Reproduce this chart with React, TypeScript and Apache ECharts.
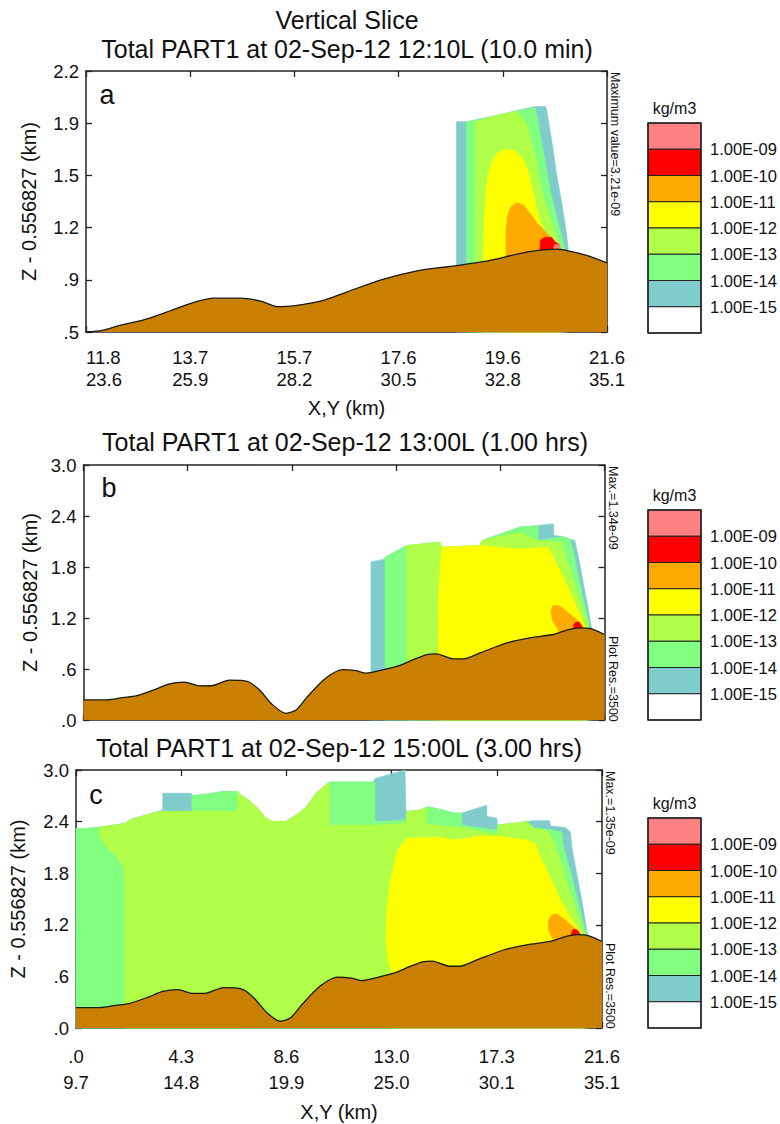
import React, { useEffect, useRef } from 'react';
import * as echarts from 'echarts';

const FONT = '"Liberation Sans", Arial, Helvetica, sans-serif';
const TEXT = '#111111';
const AXIS = '#222222';

// ---------- legend classes (top -> bottom) ----------
const legendColors = ['#FF8080', '#FF0000', '#FFAA00', '#FFFF00', '#B0FF48', '#80FF80', '#80CCCC', '#FFFFFF'];
const legendLabels = ['1.00E-09', '1.00E-10', '1.00E-11', '1.00E-12', '1.00E-13', '1.00E-14', '1.00E-15'];
const legendUnit = 'kg/m3';

const C_PINK = legendColors[0];
const C_RED = legendColors[1];
const C_ORANGE = legendColors[2];
const C_YELLOW = legendColors[3];
const C_YGREEN = legendColors[4];
const C_GREEN = legendColors[5];
const C_TEAL = legendColors[6];
const C_TERRAIN = '#C98000';

// ---------- texts ----------
const mainTitle = 'Vertical Slice';
const titleA = 'Total PART1 at 02-Sep-12 12:10L (10.0 min)';
const titleB = 'Total PART1 at 02-Sep-12 13:00L (1.00 hrs)';
const titleC = 'Total PART1 at 02-Sep-12 15:00L (3.00 hrs)';
const noteA = 'Maximum value=3.21e-09';
const noteB = 'Max.=1.34e-09';
const noteC = 'Max.=1.35e-09';
const resNote = 'Plot Res.=3500';
const yName = 'Z - 0.556827 (km)';
const xName = 'X,Y (km)';

// ---------- tick labels ----------
const xTicksA_X = ['11.8', '13.7', '15.7', '17.6', '19.6', '21.6'];
const xTicksA_Y = ['23.6', '25.9', '28.2', '30.5', '32.8', '35.1'];
const yTicksA = ['.5', '.9', '1.2', '1.5', '1.9', '2.2'];
const xTicksC_X = ['.0', '4.3', '8.6', '13.0', '17.3', '21.6'];
const xTicksC_Y = ['9.7', '14.8', '19.9', '25.0', '30.1', '35.1'];
const yTicksBC = ['.0', '.6', '1.2', '1.8', '2.4', '3.0'];

// ---------- terrain profiles [x km, z km] ----------
const terrainA: number[][] = [
  [11.8, 0.5], [12.1, 0.51], [12.4, 0.54], [12.9, 0.58], [13.4, 0.64], [13.8, 0.69], [14.2, 0.72],
  [14.7, 0.72], [15.1, 0.7], [15.4, 0.665], [15.7, 0.67], [16.3, 0.71], [16.7, 0.76], [17.35, 0.84],
  [18.05, 0.9], [18.6, 0.925], [19.3, 0.96], [19.95, 1.01], [20.27, 1.03], [20.65, 1.04], [20.85, 1.03],
  [21.2, 1.0], [21.6, 0.95],
];
const terrainBC: number[][] = [
  [0, 0.237], [1.0, 0.237], [1.62, 0.264], [2.18, 0.284], [3.0, 0.363], [3.56, 0.426], [4.18, 0.446],
  [4.8, 0.402], [5.36, 0.406], [6.05, 0.47], [6.81, 0.453], [7.29, 0.355], [7.84, 0.178], [8.4, 0.079],
  [8.81, 0.118], [9.29, 0.276], [10.05, 0.493], [10.75, 0.592], [11.3, 0.58], [11.71, 0.552],
  [12.31, 0.584], [13.12, 0.643], [13.67, 0.71], [14.23, 0.769], [14.64, 0.777], [15.33, 0.718],
  [15.75, 0.718], [16.44, 0.789], [17.55, 0.907], [18.51, 0.967], [19.48, 1.006], [20.03, 1.057],
  [20.58, 1.085], [21.0, 1.077], [21.6, 1.006],
];

// ---------- concentration regions, panel a ----------
const plumeA_teal = [[18.77, 0.5], [18.77, 1.87], [18.96, 1.87], [19.56, 1.914], [19.9, 1.942], [20.25, 1.968], [20.45, 1.968], [20.47, 1.935], [20.56, 1.75], [20.65, 1.53], [20.75, 1.338], [20.83, 1.164], [20.87, 1.045], [20.87, 0.5]];
const plumeA_green = [[18.96, 0.5], [18.96, 1.868], [19.56, 1.912], [19.9, 1.94], [20.25, 1.963], [20.31, 1.86], [20.42, 1.64], [20.53, 1.425], [20.65, 1.25], [20.75, 1.12], [20.81, 1.045], [20.81, 0.5]];
const plumeA_ygreen = [[19.12, 0.5], [19.12, 1.87], [19.56, 1.912], [19.9, 1.938], [20.09, 1.859], [20.25, 1.642], [20.37, 1.425], [20.53, 1.251], [20.65, 1.121], [20.72, 1.056], [20.72, 0.5]];
const plumeA_yellow = [[19.27, 0.5], [19.27, 0.947], [19.29, 1.208], [19.32, 1.425], [19.4, 1.577], [19.53, 1.664], [19.68, 1.692], [19.84, 1.681], [19.99, 1.642], [20.12, 1.544], [20.23, 1.381], [20.33, 1.23], [20.47, 1.121], [20.65, 1.06], [20.75, 1.034], [20.75, 0.5]];
const plumeA_orange = [[19.7, 0.5], [19.7, 1.164], [19.73, 1.262], [19.79, 1.316], [19.9, 1.342], [20.03, 1.327], [20.15, 1.273], [20.29, 1.208], [20.47, 1.143], [20.62, 1.088], [20.72, 1.045], [20.72, 0.5]];
const plumeA_red = [[20.33, 0.9], [20.34, 1.056], [20.35, 1.099], [20.43, 1.117], [20.56, 1.117], [20.62, 1.088], [20.69, 1.073], [20.72, 1.045], [20.72, 0.9]];
const plumeA_pink = [[20.59, 0.95], [20.59, 1.045], [20.62, 1.071], [20.7, 1.066], [20.72, 1.045], [20.72, 0.95]];

// ---------- concentration regions, panel b ----------
const plumeB_teal = [[11.92, 0], [11.92, 1.86], [12.5, 1.894], [12.5, 1.914], [13.4, 2.052], [14.78, 2.091], [14.85, 2.032], [16.44, 2.052], [16.51, 2.111], [18.09, 2.269], [18.85, 2.288], [19.48, 2.308], [19.5, 2.17], [19.82, 2.162], [20.37, 2.111], [20.55, 1.874], [20.75, 1.57], [20.93, 1.302], [21.07, 1.066], [21.07, 0]];
const plumeB_green = [[12.5, 0], [12.5, 1.914], [13.4, 2.052], [14.78, 2.091], [14.85, 2.032], [16.44, 2.052], [16.51, 2.111], [18.09, 2.269], [18.85, 2.288], [18.85, 2.111], [19.48, 2.139], [19.82, 2.155], [20.17, 2.131], [20.31, 1.973], [20.51, 1.697], [20.72, 1.421], [20.89, 1.223], [21.0, 1.073], [21.0, 0]];
const plumeB_ygreen = [[13.4, 0], [13.4, 2.052], [14.78, 2.091], [14.85, 2.032], [16.44, 2.052], [16.51, 2.111], [18.09, 2.21], [18.85, 2.111], [19.82, 2.091], [20.03, 1.894], [20.31, 1.657], [20.58, 1.421], [20.79, 1.223], [20.93, 1.085], [20.93, 0]];
const plumeB_yellow = [[14.7, 0], [14.72, 1.5], [14.85, 2.032], [16.44, 2.052], [18.09, 2.012], [19.27, 2.032], [19.48, 1.914], [19.75, 1.756], [20.03, 1.598], [20.31, 1.421], [20.58, 1.243], [20.79, 1.105], [20.86, 1.07], [20.86, 0]];
const plumeB_orange = [[19.68, 0.9], [19.68, 1.066], [19.45, 1.164], [19.37, 1.282], [19.48, 1.35], [19.75, 1.342], [20.1, 1.263], [20.44, 1.184], [20.65, 1.113], [20.75, 1.073], [20.75, 0.9]];
const plumeB_red = [[20.31, 0.95], [20.31, 1.066], [20.33, 1.125], [20.42, 1.152], [20.55, 1.152], [20.65, 1.113], [20.68, 1.073], [20.68, 0.95]];

// ---------- concentration regions, panel c ----------
const plumeC_teal = [[0, 0], [0, 2.32], [0.41, 2.32], [1.1, 2.34], [2.05, 2.38], [2.19, 2.42], [3.15, 2.5], [3.56, 2.535], [3.56, 2.73], [4.76, 2.73], [4.76, 2.7], [5.61, 2.73], [6.02, 2.75], [6.64, 2.75], [6.75, 2.71], [7.0, 2.67], [7.25, 2.61], [7.53, 2.535], [7.8, 2.44], [8.08, 2.4], [8.62, 2.4], [9.17, 2.5], [9.45, 2.57], [9.86, 2.73], [10.27, 2.83], [10.4, 2.86], [12.21, 2.86], [12.28, 2.9], [13.51, 3.0], [13.55, 2.52], [14.13, 2.535], [14.47, 2.573], [15.0, 2.54], [15.5, 2.5], [15.84, 2.5], [16.87, 2.59], [16.87, 2.46], [17.28, 2.44], [17.3, 2.36], [17.96, 2.38], [18.51, 2.4], [18.8, 2.41], [19.45, 2.41], [19.5, 2.35], [20.1, 2.33], [20.3, 2.28], [20.36, 2.11], [20.56, 1.8], [20.77, 1.49], [20.97, 1.14], [21.04, 1.06], [21.04, 0]];
const plumeC_green = [[0, 0], [0, 2.32], [0.41, 2.32], [1.1, 2.34], [2.05, 2.38], [2.19, 2.42], [3.15, 2.5], [3.56, 2.52], [4.76, 2.52], [4.76, 2.7], [5.61, 2.73], [6.02, 2.75], [6.64, 2.75], [6.75, 2.71], [7.0, 2.67], [7.25, 2.61], [7.53, 2.535], [7.8, 2.44], [8.08, 2.4], [8.62, 2.4], [9.17, 2.5], [9.45, 2.57], [9.86, 2.73], [10.27, 2.83], [10.4, 2.86], [12.28, 2.86], [12.28, 2.4], [13.55, 2.42], [13.58, 2.515], [14.13, 2.535], [14.47, 2.573], [15.0, 2.54], [15.5, 2.5], [15.84, 2.5], [15.84, 2.36], [17.3, 2.3], [17.3, 2.36], [17.96, 2.38], [18.51, 2.4], [18.8, 2.33], [19.6, 2.3], [19.94, 2.28], [20.01, 2.11], [20.29, 1.84], [20.56, 1.53], [20.77, 1.29], [20.97, 1.08], [20.97, 0]];
const plumeC_ygreen = [[1.985, 0], [1.985, 1.76], [1.92, 1.88], [1.64, 2.0], [1.23, 2.11], [0.96, 2.23], [0.96, 2.335], [1.1, 2.34], [2.05, 2.38], [2.19, 2.42], [3.15, 2.5], [3.56, 2.52], [6.64, 2.52], [6.64, 2.75], [6.75, 2.71], [7.0, 2.67], [7.25, 2.61], [7.53, 2.535], [7.8, 2.44], [8.08, 2.4], [8.62, 2.4], [9.17, 2.5], [9.45, 2.57], [9.86, 2.73], [10.27, 2.83], [10.4, 2.85], [10.4, 2.36], [12.28, 2.36], [13.55, 2.38], [13.58, 2.515], [14.13, 2.535], [14.38, 2.56], [14.38, 2.37], [15.84, 2.33], [17.3, 2.25], [17.35, 2.36], [17.96, 2.38], [18.51, 2.4], [18.8, 2.32], [19.33, 2.3], [19.6, 2.186], [19.88, 1.953], [20.22, 1.643], [20.49, 1.41], [20.77, 1.178], [20.9, 1.081], [20.9, 0]];
const plumeC_yellow = [[13.0, 0], [12.98, 0.62], [12.82, 0.78], [12.72, 1.05], [12.78, 1.4], [12.9, 1.7], [13.1, 1.95], [13.24, 2.09], [13.58, 2.205], [14.95, 2.217], [15.5, 2.186], [16.04, 2.205], [16.59, 2.232], [17.55, 2.225], [17.96, 2.205], [18.51, 2.186], [18.85, 2.147], [19.06, 1.992], [19.47, 1.76], [19.88, 1.488], [20.29, 1.294], [20.63, 1.139], [20.84, 1.081], [20.84, 0]];
const plumeC_orange = [[19.6, 0.9], [19.6, 1.023], [19.4, 1.14], [19.4, 1.256], [19.53, 1.314], [19.74, 1.325], [20.01, 1.275], [20.42, 1.178], [20.7, 1.1], [20.77, 1.06], [20.77, 0.9]];
const plumeC_red = [[20.33, 0.95], [20.33, 1.054], [20.36, 1.12], [20.42, 1.147], [20.59, 1.139], [20.7, 1.093], [20.73, 1.054], [20.73, 0.95]];

type Layer = { color: string; pts: number[][] };

const layersA: Layer[] = [
  { color: C_TEAL, pts: plumeA_teal },
  { color: C_GREEN, pts: plumeA_green },
  { color: C_YGREEN, pts: plumeA_ygreen },
  { color: C_YELLOW, pts: plumeA_yellow },
  { color: C_ORANGE, pts: plumeA_orange },
  { color: C_RED, pts: plumeA_red },
  { color: C_PINK, pts: plumeA_pink },
];
const layersB: Layer[] = [
  { color: C_TEAL, pts: plumeB_teal },
  { color: C_GREEN, pts: plumeB_green },
  { color: C_YGREEN, pts: plumeB_ygreen },
  { color: C_YELLOW, pts: plumeB_yellow },
  { color: C_ORANGE, pts: plumeB_orange },
  { color: C_RED, pts: plumeB_red },
];
const layersC: Layer[] = [
  { color: C_TEAL, pts: plumeC_teal },
  { color: C_GREEN, pts: plumeC_green },
  { color: C_YGREEN, pts: plumeC_ygreen },
  { color: C_YELLOW, pts: plumeC_yellow },
  { color: C_ORANGE, pts: plumeC_orange },
  { color: C_RED, pts: plumeC_red },
];

// ---------- layout ----------
const panels = [
  {
    grid: { left: 86, top: 71, width: 521, height: 261 },
    x: { min: 11.8, max: 21.6, interval: 1.96 },
    y: { min: 0.5, max: 2.2, interval: 0.34 },
    xLabels: (i: number) => (xTicksA_X[i] !== undefined ? `${xTicksA_X[i]}\n${xTicksA_Y[i]}` : ''),
    yLabels: yTicksA,
    alignMin: 'left',
    xLabelMargin: 14, xLineHeight: 22, xNameGap: 66, yNameGap: 47,
    layers: layersA, terrain: terrainA,
  },
  {
    grid: { left: 83.5, top: 465, width: 521, height: 255 },
    x: { min: 0, max: 21.6, interval: 4.32 },
    y: { min: 0, max: 3.0, interval: 0.6 },
    xLabels: null as any,
    yLabels: yTicksBC,
    alignMin: 'center',
    xLabelMargin: 14, xLineHeight: 22, xNameGap: 66, yNameGap: 44,
    layers: layersB, terrain: terrainBC,
  },
  {
    grid: { left: 76, top: 770, width: 526, height: 258 },
    x: { min: 0, max: 21.6, interval: 4.32 },
    y: { min: 0, max: 3.0, interval: 0.6 },
    xLabels: (i: number) => (xTicksC_X[i] !== undefined ? `${xTicksC_X[i]}\n${xTicksC_Y[i]}` : ''),
    yLabels: yTicksBC,
    alignMin: 'center',
    xLabelMargin: 15, xLineHeight: 26, xNameGap: 74, yNameGap: 48,
    layers: layersC, terrain: terrainBC,
  },
];

function buildOption() {
  const grids: any[] = [];
  const xAxes: any[] = [];
  const yAxes: any[] = [];
  const series: any[] = [];

  const lineStyle = { color: AXIS, width: 1.5 };
  const tickStyle = { color: AXIS, width: 1.3 };

  panels.forEach((p, g) => {
    grids.push({ ...p.grid, containLabel: false, outerBoundsMode: 'none', show: false });
    xAxes.push({
      type: 'value', gridIndex: g, position: 'bottom', ...p.x,
      axisLine: { show: true, onZero: false, lineStyle },
      axisTick: { show: true, inside: true, length: 6, lineStyle: tickStyle },
      splitLine: { show: false },
      axisLabel: p.xLabels
        ? {
            show: true, margin: p.xLabelMargin, fontSize: 18.5, lineHeight: p.xLineHeight,
            fontFamily: FONT, color: TEXT, alignMinLabel: p.alignMin,
            formatter: (_v: number, i: number) => p.xLabels(i),
          }
        : { show: false },
      name: p.xLabels ? xName : '',
      nameLocation: 'middle', nameGap: p.xNameGap,
      nameTextStyle: { fontSize: 20, fontFamily: FONT, color: TEXT },
    });
    xAxes.push({
      type: 'value', gridIndex: g, position: 'top', ...p.x,
      axisLine: { show: true, onZero: false, lineStyle },
      axisTick: { show: true, inside: true, length: 6, lineStyle: tickStyle },
      splitLine: { show: false }, axisLabel: { show: false },
    });
    yAxes.push({
      type: 'value', gridIndex: g, position: 'left', ...p.y,
      axisLine: { show: true, onZero: false, lineStyle },
      axisTick: { show: true, inside: true, length: 6, lineStyle: tickStyle },
      splitLine: { show: false },
      axisLabel: {
        show: true, margin: 7, fontSize: 18.5, fontFamily: FONT, color: TEXT,
        formatter: (_v: number, i: number) => p.yLabels[i] ?? '',
      },
      name: yName, nameLocation: 'middle', nameGap: p.yNameGap, nameRotate: 90,
      nameTextStyle: { fontSize: 20, fontFamily: FONT, color: TEXT },
    });
    yAxes.push({
      type: 'value', gridIndex: g, position: 'right', ...p.y,
      axisLine: { show: true, onZero: false, lineStyle },
      axisTick: { show: true, inside: true, length: 6, lineStyle: tickStyle },
      splitLine: { show: false }, axisLabel: { show: false },
    });

    const layers = p.layers;
    series.push({
      type: 'custom',
      xAxisIndex: g * 2,
      yAxisIndex: g * 2,
      silent: true,
      z: 2,
      data: layers.map((l, i) => [l.pts[1][0], l.pts[1][1], i]),
      renderItem: (params: any, api: any) => {
        const l = layers[params.dataIndex];
        return {
          type: 'polygon',
          z2: params.dataIndex,
          shape: { points: l.pts.map((pt) => api.coord(pt)) },
          style: { fill: l.color, stroke: l.color, lineWidth: 0.6 },
        };
      },
    });
    series.push({
      type: 'line',
      xAxisIndex: g * 2,
      yAxisIndex: g * 2,
      data: p.terrain,
      symbol: 'none',
      smooth: 0.25,
      silent: true,
      z: 3,
      lineStyle: { color: '#1A1A1A', width: 1.3 },
      areaStyle: { color: C_TERRAIN, opacity: 1, origin: 'start' },
    });
  });

  const txt = (x: number, y: number, text: string, size: number, extra: any = {}) => ({
    type: 'text', x, y, silent: true,
    style: { text, fontSize: size, fontFamily: FONT, fill: TEXT, align: 'center', verticalAlign: 'middle', ...extra },
  });
  const vtxt = (x: number, y: number, text: string) => ({
    type: 'text', x, y, rotation: -Math.PI / 2, silent: true,
    style: { text, fontSize: 12.5, fontFamily: FONT, fill: TEXT, align: 'left', verticalAlign: 'middle' },
  });

  const legend = (top: number) => {
    const left = 648;
    const w = 53;
    const cellH = 26.25;
    const els: any[] = [];
    els.push(txt(left + w / 2, top - 15, legendUnit, 16));
    legendColors.forEach((c, i) => {
      els.push({
        type: 'rect', silent: true,
        shape: { x: left, y: top + i * cellH, width: w, height: cellH },
        style: { fill: c, stroke: AXIS, lineWidth: 1 },
      });
    });
    els.push({
      type: 'rect', silent: true,
      shape: { x: left, y: top, width: w, height: cellH * legendColors.length },
      style: { fill: 'none', stroke: AXIS, lineWidth: 1.5 },
    });
    legendLabels.forEach((t, i) => {
      els.push(txt(left + w + 9, top + (i + 1) * cellH, t, 16.5, { align: 'left' }));
    });
    return els;
  };

  const graphic: any[] = [
    txt(347, 20, mainTitle, 25),
    txt(347, 49, titleA, 25),
    txt(345, 442, titleB, 25),
    txt(339, 748, titleC, 25),
    txt(107, 95, 'a', 27),
    txt(109, 488, 'b', 27),
    txt(96, 795, 'c', 27),
    vtxt(615, 72, noteA),
    vtxt(613, 466, noteB),
    vtxt(613, 636, resNote),
    vtxt(610, 771, noteC),
    vtxt(610, 943, resNote),
    ...legend(123),
    ...legend(510),
    ...legend(818),
  ];

  return {
    animation: false,
    backgroundColor: '#FFFFFF',
    grid: grids,
    xAxis: xAxes,
    yAxis: yAxes,
    series,
    graphic: { elements: graphic },
  };
}

export default function App() {
  const ref = useRef<HTMLDivElement>(null);
  useEffect(() => {
    document.body.style.margin = '0';
    if (!ref.current) return;
    const chart = echarts.init(ref.current, undefined, { renderer: 'svg' });
    chart.setOption(buildOption() as any);
    return () => chart.dispose();
  }, []);
  return <div ref={ref} style={{ width: 780, height: 1124 }} />;
}
